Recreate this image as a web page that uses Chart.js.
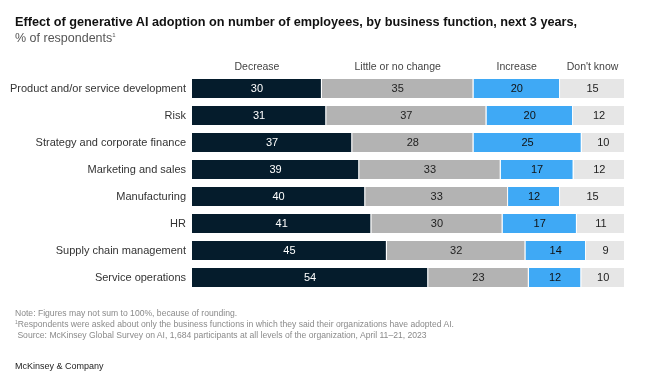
<!DOCTYPE html>
<html>
<head>
<meta charset="utf-8">
<script src="https://cdn.jsdelivr.net/npm/chart.js@4"></script>
<style>
  html, body { margin: 0; padding: 0; background: #fff; }
  body { width: 671px; height: 379px; position: relative; overflow: hidden; font-family: "Liberation Sans", Arial, sans-serif; }
  #wrap { position: absolute; left: 0; top: 0; width: 671px; height: 379px; }
  .t { position: absolute; left: 15px; white-space: nowrap; }
  #title { top: 13px; font-size: 12.7px; font-weight: bold; color: #111; line-height: 18px; }
  #sub { top: 29px; font-size: 12.5px; color: #555; line-height: 18px; }
  #sub sup { font-size: 6px; vertical-align: 5px; line-height: 0; }
  .fn { font-size: 8.6px; color: #8a8a8a; line-height: 11px; }
  .fn sup { font-size: 5px; vertical-align: 3px; line-height: 0; }
  #brand { top: 360px; font-size: 9px; color: #222; line-height: 13px; }
</style>
</head>
<body>
<div id="wrap"><canvas id="c" width="671" height="379"></canvas></div>
<div class="t" id="title">Effect of generative AI adoption on number of employees, by business function, next 3 years,</div>
<div class="t" id="sub">% of respondents<sup>1</sup></div>
<div class="t fn" style="top:308px">Note: Figures may not sum to 100%, because of rounding.</div>
<div class="t fn" style="top:319px"><sup>1</sup>Respondents were asked about only the business functions in which they said their organizations have adopted AI.</div>
<div class="t fn" style="top:330px">&nbsp;Source: McKinsey Global Survey on AI, 1,684 participants at all levels of the organization, April 11–21, 2023</div>
<div class="t" id="brand">McKinsey &amp; Company</div>
<script>
const categories = [
  "Product and/or service development",
  "Risk",
  "Strategy and corporate finance",
  "Marketing and sales",
  "Manufacturing",
  "HR",
  "Supply chain management",
  "Service operations"
];
const seriesLabels = ["Decrease", "Little or no change", "Increase", "Don't know"];
const decrease     = [30, 31, 37, 39, 40, 41, 45, 54];
const littleChange = [35, 37, 28, 33, 33, 30, 32, 23];
const increase     = [20, 20, 25, 17, 12, 17, 14, 12];
const dontKnow     = [15, 12, 10, 12, 15, 11,  9, 10];

const seriesValues = [decrease, littleChange, increase, dontKnow];
const seriesColors = ["#051C2C", "#B3B3B3", "#3FA9F5", "#E6E6E6"];
const labelColors  = ["#ffffff", "#222222", "#111111", "#222222"];
const FONT = '"Liberation Sans", Arial, sans-serif';

// bars are drawn as share of each row's total so every row spans the full width
const rowTotals = categories.map((_, i) => seriesValues.reduce((s, arr) => s + arr[i], 0));

const datasets = seriesValues.map((vals, k) => ({
  label: seriesLabels[k],
  data: vals.map((v, i) => v / rowTotals[i] * 100),
  rawValues: vals,
  backgroundColor: seriesColors[k],
  borderColor: "#ffffff",
  borderWidth: { top: 0, bottom: 0, left: 0, right: 1 },
  borderSkipped: false,
  barPercentage: 0.7,
  categoryPercentage: 1.0
}));

const labelsPlugin = {
  id: "segLabels",
  afterDatasetsDraw(chart) {
    const ctx = chart.ctx;
    ctx.save();
    ctx.textAlign = "center";
    ctx.textBaseline = "middle";
    chart.data.datasets.forEach((ds, k) => {
      const meta = chart.getDatasetMeta(k);
      ctx.font = "11px " + FONT;
      meta.data.forEach((el, i) => {
        const cx = (el.x + el.base) / 2;
        ctx.fillStyle = labelColors[k];
        ctx.fillText(String(ds.rawValues[i]), cx, el.y + 0.5);
      });
      // column headers above the first row
      const first = meta.data[0];
      const hx = (first.x + first.base) / 2;
      ctx.font = "10.5px " + FONT;
      ctx.fillStyle = "#444444";
      ctx.fillText(ds.label, hx, chart.chartArea.top - 8);
    });
    ctx.restore();
  }
};

new Chart(document.getElementById("c"), {
  type: "bar",
  data: { labels: categories, datasets },
  options: {
    indexAxis: "y",
    responsive: false,
    animation: false,
    layout: { padding: { left: 0, right: 46, top: 75, bottom: 88 } },
    plugins: { legend: { display: false }, tooltip: { enabled: false }, title: { display: false } },
    scales: {
      x: { stacked: true, min: 0, max: 100, display: false },
      y: {
        stacked: true,
        grid: { display: false, drawTicks: false },
        border: { display: false },
        ticks: { padding: 6, color: "#333333", font: { family: FONT, size: 11 } },
        afterFit(scale) { scale.width = 192; }
      }
    }
  },
  plugins: [labelsPlugin]
});
</script>
</body>
</html>
